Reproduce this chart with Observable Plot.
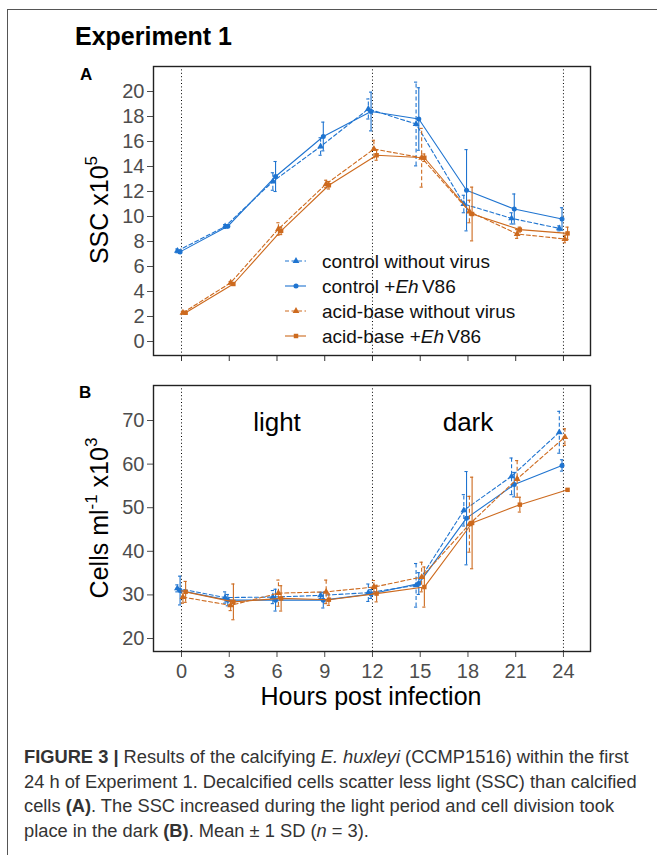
<!DOCTYPE html>
<html><head><meta charset="utf-8">
<script src="https://cdn.jsdelivr.net/npm/d3@7"></script>
<script src="https://cdn.jsdelivr.net/npm/@observablehq/plot@0.6"></script>
<style>
body{margin:0;background:#fff;font-family:"Liberation Sans",Arial,sans-serif;}
#fig{position:relative;width:657px;height:855px;overflow:hidden;background:#fff;}
#border{position:absolute;left:7px;top:9px;width:660px;height:860px;border-top:1.3px solid #555;border-left:1.3px solid #555;}
.panel{position:absolute;left:0;}
#overlay{position:absolute;left:0;top:0;pointer-events:none;}
#caption{position:absolute;left:24px;top:745px;font-size:18.3px;line-height:24.5px;color:#333;white-space:nowrap;font-family:"Liberation Sans",Arial,sans-serif;}
</style></head>
<body><div id="fig"><div id="border"></div><div id="panelA" class="panel" style="top:56px"></div><div id="panelB" class="panel" style="top:375px"></div>
<div id="caption"><b>FIGURE 3 |</b> Results of the calcifying <i>E. huxleyi</i> (CCMP1516) within the first<br>24 h of Experiment 1. Decalcified cells scatter less light (SSC) than calcified<br>cells <b>(A)</b>. The SSC increased during the light period and cell division took<br>place in the dark <b>(B)</b>. Mean ± 1 SD (<i>n</i> = 3).</div>
</div>
<script>
// ---- data ----
const hours = [0, 3, 6, 9, 12, 15, 18, 21, 24];
const seriesNames = ["control without virus", "control +EhV86", "acid-base without virus", "acid-base +EhV86"];
const periodBounds = [0, 12, 24];
const periods = [{label: "light", hour: 6}, {label: "dark", hour: 18}];
const sscTicks = [0, 2, 4, 6, 8, 10, 12, 14, 16, 18, 20];
const cellTicks = [20, 30, 40, 50, 60, 70];

// SSC x10^5 (panel A)
const sscCtrlNoVirus   = [7.25, 9.2, 12.8, 15.6, 18.6, 17.4, 11.0, 9.85, 9.05];
const sscCtrlNoVirusSd = [0.15, 0.15, 0.7, 0.7, 0.8, 3.35, 0.7, 0.45, 0.2];
const sscCtrlVirus     = [7.17, 9.22, 13.2, 16.4, 18.4, 17.8, 12.1, 10.6, 9.8];
const sscCtrlVirusSd   = [0.1, 0.1, 1.2, 1.15, 1.55, 2.5, 3.25, 1.2, 0.9];
const sscAcidNoVirus   = [2.3, 4.7, 9.0, 12.6, 15.4, 14.7, 10.4, 8.6, 8.2];
const sscAcidNoVirusSd = [0.1, 0.1, 0.5, 0.3, 0.7, 2.35, 0.9, 0.35, 0.3];
const sscAcidVirus     = [2.3, 4.6, 8.85, 12.5, 14.9, 14.7, 10.2, 8.95, 8.65];
const sscAcidVirusSd   = [0.1, 0.1, 0.3, 0.3, 0.4, 0.3, 2.15, 0.2, 0.5];

// Cells ml^-1 x10^3 (panel B)
const cellsCtrlNoVirus   = [31.5, 29.4, 29.5, 29.9, 30.5, 32.2, 49.4, 57.2, 67.3];
const cellsCtrlNoVirusSd = [0.8, 1.3, 1.5, 0.7, 2.0, 5.0, 3.6, 4.2, 4.8];
const cellsCtrlVirus     = [31.0, 28.8, 28.8, 28.8, 30.2, 32.6, 47.6, 55.3, 59.7];
const cellsCtrlVirusSd   = [3.3, 1.3, 2.5, 1.8, 1.0, 2.5, 10.7, 2.8, 1.3];
const cellsAcidNoVirus   = [29.5, 27.6, 30.4, 30.7, 31.8, 34.1, 46.2, 56.6, 66.2];
const cellsAcidNoVirusSd = [1.4, 1.2, 3.0, 2.7, 1.5, 3.4, 6.4, 4.2, 1.9];
const cellsAcidVirus     = [30.7, 28.4, 29.2, 28.9, 30.3, 31.8, 46.5, 50.7, 54.1];
const cellsAcidVirusSd   = [2.4, 4.1, 2.9, 1.3, 1.9, 4.6, 10.5, 1.7, 0.2];

// ---- styling ----
const BLUE = "#1f74d0", ORANGE = "#cd6a1e";
const seriesColors = [BLUE, BLUE, ORANGE, ORANGE];
const seriesDashed = [true, false, true, false];
const seriesSymbols = ["triangle", "circle", "triangle", "square"];
const dodge = [-0.26, -0.09, 0.09, 0.26];
const cap = 0.1;
const DASH = "4,2.5";

function buildRows(means, sds) {
  return seriesNames.flatMap((name, i) => hours.map((h, j) => ({
    series: name, i, hour: h, x: h + dodge[i],
    mean: means[i][j], lo: means[i][j] - sds[i][j], hi: means[i][j] + sds[i][j]
  })));
}

function seriesMarks(rows) {
  const marks = [];
  seriesNames.forEach((name, i) => {
    const r = rows.filter(d => d.i === i);
    const stroke = seriesColors[i];
    const dash = seriesDashed[i] ? {strokeDasharray: DASH} : {};
    marks.push(Plot.ruleX(r, {x: "x", y1: "lo", y2: "hi", stroke, strokeWidth: 1.1, ...dash}));
    marks.push(Plot.ruleY(r, {y: "lo", x1: d => d.x - cap, x2: d => d.x + cap, stroke, strokeWidth: 1.1}));
    marks.push(Plot.ruleY(r, {y: "hi", x1: d => d.x - cap, x2: d => d.x + cap, stroke, strokeWidth: 1.1}));
    marks.push(Plot.line(r, {x: "x", y: "mean", stroke, strokeWidth: 1.1, ...dash}));
    marks.push(Plot.dot(r, {x: "x", y: "mean", symbol: seriesSymbols[i], r: 2.5, fill: stroke, stroke: "none"}));
  });
  return marks;
}

const baseStyle = {fontFamily: "'Liberation Sans', Arial, sans-serif", fontSize: "20px", background: "transparent", overflow: "visible"};
const xDomain = [-1.76, 25.7];

const rowsA = buildRows([sscCtrlNoVirus, sscCtrlVirus, sscAcidNoVirus, sscAcidVirus],
                        [sscCtrlNoVirusSd, sscCtrlVirusSd, sscAcidNoVirusSd, sscAcidVirusSd]);
const rowsB = buildRows([cellsCtrlNoVirus, cellsCtrlVirus, cellsAcidNoVirus, cellsAcidVirus],
                        [cellsCtrlNoVirusSd, cellsCtrlVirusSd, cellsAcidNoVirusSd, cellsAcidVirusSd]);

const plotA = Plot.plot({
  width: 657, height: 314, marginLeft: 153, marginRight: 67, marginTop: 10, marginBottom: 15,
  style: baseStyle,
  x: {domain: xDomain},
  y: {domain: [-1.12, 22.0]},
  marks: [
    Plot.ruleX(periodBounds, {x: d => d, stroke: "#000", strokeWidth: 1, strokeDasharray: "1,2.4"}),
    ...seriesMarks(rowsA),
    Plot.axisY({ticks: sscTicks, tickSize: 6, tickPadding: 3, fontSize: 20, color: "#4d4d4d", label: null}),
    Plot.axisX({ticks: hours, tickSize: 6, tickFormat: () => "", color: "#333", label: null}),
    Plot.frame({stroke: "#222", strokeWidth: 1.4})
  ]
});
document.getElementById("panelA").appendChild(plotA);

const plotB = Plot.plot({
  width: 657, height: 311, marginLeft: 153, marginRight: 67, marginTop: 10, marginBottom: 35,
  style: baseStyle,
  x: {domain: xDomain},
  y: {domain: [17.02, 78.03]},
  marks: [
    Plot.ruleX(periodBounds, {x: d => d, stroke: "#000", strokeWidth: 1, strokeDasharray: "1,2.4"}),
    Plot.text(periods, {x: "hour", text: "label", frameAnchor: "top", dy: 27, fontSize: 26, fill: "#000"}),
    ...seriesMarks(rowsB),
    Plot.axisY({ticks: cellTicks, tickSize: 6, tickPadding: 3, fontSize: 20, color: "#4d4d4d", label: null}),
    Plot.axisX({ticks: hours, tickSize: 6, tickPadding: 6, fontSize: 20, color: "#4d4d4d", label: null}),
    Plot.frame({stroke: "#222", strokeWidth: 1.4})
  ]
});
document.getElementById("panelB").appendChild(plotB);

// ---- overlay: titles, axis titles, legend ----
const svg = d3.select("#fig").append("svg").attr("id", "overlay").attr("width", 657).attr("height", 855)
  .style("font-family", "'Liberation Sans', Arial, sans-serif");
svg.append("text").attr("x", 75).attr("y", 45).attr("font-size", 25).attr("font-weight", "bold").text("Experiment 1");
svg.append("text").attr("x", 80).attr("y", 80).attr("font-size", 17).attr("font-weight", "bold").text("A");
svg.append("text").attr("x", 79).attr("y", 398).attr("font-size", 17).attr("font-weight", "bold").text("B");

const tA = svg.append("text").attr("transform", "translate(108,210) rotate(-90)").attr("text-anchor", "middle").attr("font-size", 25);
tA.append("tspan").text("SSC x10");
tA.append("tspan").attr("font-size", 17).attr("dy", -11).text("5");

const tB = svg.append("text").attr("transform", "translate(108,518) rotate(-90)").attr("text-anchor", "middle").attr("font-size", 25);
tB.append("tspan").text("Cells ml");
tB.append("tspan").attr("font-size", 17).attr("dy", -11).text("-1");
tB.append("tspan").attr("dy", 11).text(" x10");
tB.append("tspan").attr("font-size", 17).attr("dy", -11).text("3");

svg.append("text").attr("x", 371).attr("y", 705).attr("text-anchor", "middle").attr("font-size", 25).text("Hours post infection");

// legend
const legendRows = [261, 286, 311, 336];
const sym = {triangle: d3.symbolTriangle, circle: d3.symbolCircle, square: d3.symbolSquare};
seriesNames.forEach((name, i) => {
  const y = legendRows[i];
  const g = svg.append("g");
  const ln = g.append("line").attr("x1", 285).attr("x2", 306).attr("y1", y).attr("y2", y)
    .attr("stroke", seriesColors[i]).attr("stroke-width", 1.1);
  if (seriesDashed[i]) ln.attr("stroke-dasharray", DASH);
  g.append("path").attr("d", d3.symbol(sym[seriesSymbols[i]], 20)()).attr("transform", `translate(296,${y})`).attr("fill", seriesColors[i]);
  const t = g.append("text").attr("x", 322).attr("y", y + 6.5).attr("font-size", 19).attr("fill", "#111");
  const m = name.match(/^(.*\+)Eh(V86)$/);
  if (m) {
    t.append("tspan").text(m[1]);
    t.append("tspan").attr("font-style", "italic").text("Eh");
    t.append("tspan").text(" " + m[2]).attr("dx", -2);
  } else t.text(name);
});
</script>
</body></html>
